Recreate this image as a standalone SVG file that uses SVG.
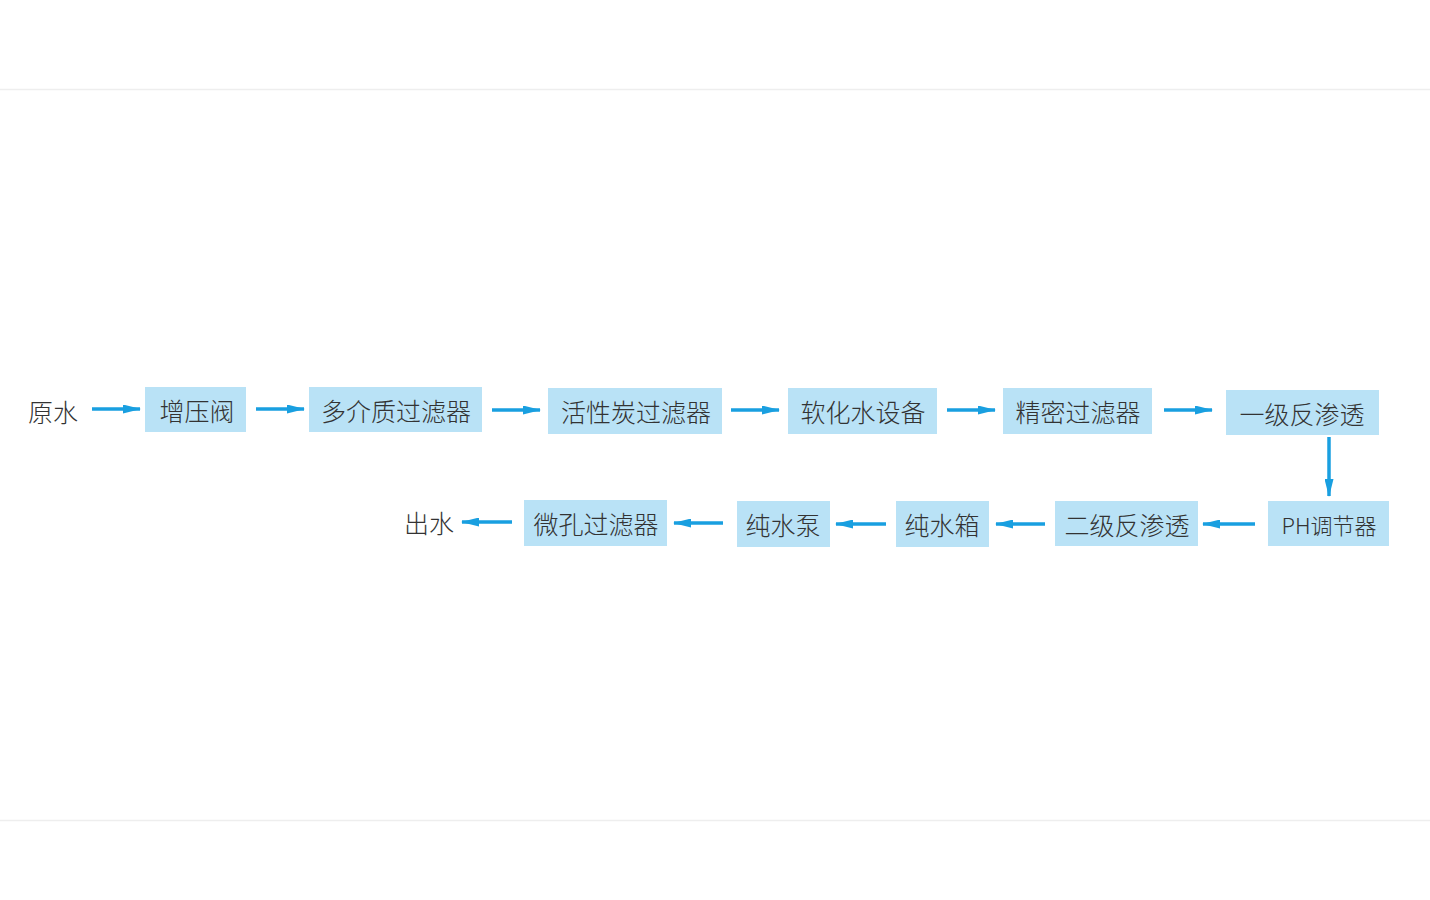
<svg xmlns="http://www.w3.org/2000/svg" width="1430" height="900" viewBox="0 0 1430 900">
<style>
.box{fill:#b9e2f6}
.t{font-family:"Noto Sans CJK SC","Noto Sans",sans-serif;font-size:25px;fill:#333;text-anchor:middle;dominant-baseline:central;font-weight:300}
.a{stroke:#199fe0;stroke-width:3.5;fill:none;marker-end:url(#ah)}
</style>
<defs>
<marker id="ah" viewBox="0 0 18 9" refX="17" refY="4.5" markerWidth="18" markerHeight="9" markerUnits="userSpaceOnUse" orient="auto">
<path d="M0,0 L18,4.5 L0,9 Z" fill="#199fe0"/>
</marker>
</defs>
<rect x="0" y="0" width="1430" height="900" fill="#fff"/>
<line x1="0" y1="89.5" x2="1430" y2="89.5" stroke="#eeeeee" stroke-width="1.5"/>
<line x1="0" y1="820.5" x2="1430" y2="820.5" stroke="#eeeeee" stroke-width="1.5"/>

<g id="n0"><text class="t" x="53" y="411">原水</text></g>
<g id="n1"><rect class="box" x="145" y="387" width="101" height="45"/><text class="t" x="197" y="410">增压阀</text></g>
<g id="n2"><rect class="box" x="309" y="387" width="173" height="45"/><text class="t" x="396" y="410">多介质过滤器</text></g>
<g id="n3"><rect class="box" x="548" y="388" width="174" height="46"/><text class="t" x="636" y="411">活性炭过滤器</text></g>
<g id="n4"><rect class="box" x="788" y="388" width="149" height="46"/><text class="t" x="863" y="411">软化水设备</text></g>
<g id="n5"><rect class="box" x="1003" y="388" width="149" height="46"/><text class="t" x="1078" y="411">精密过滤器</text></g>
<g id="n6"><rect class="box" x="1226" y="390" width="153" height="45"/><text class="t" x="1302" y="413">一级反渗透</text></g>
<g id="n7"><rect class="box" x="1268" y="501" width="121" height="45"/><text class="t" x="1329" y="524" style="font-size:22px">PH调节器</text></g>
<g id="n8"><rect class="box" x="1055" y="501" width="143" height="45"/><text class="t" x="1127" y="524">二级反渗透</text></g>
<g id="n9"><rect class="box" x="896" y="501" width="93" height="46"/><text class="t" x="942" y="524">纯水箱</text></g>
<g id="n10"><rect class="box" x="737" y="501" width="93" height="46"/><text class="t" x="783" y="524">纯水泵</text></g>
<g id="n11"><rect class="box" x="524" y="500" width="143" height="46"/><text class="t" x="596" y="523">微孔过滤器</text></g>
<g id="n12"><text class="t" x="429" y="522">出水</text></g>

<g id="connectors">
<line class="a" x1="92" y1="409" x2="140" y2="409"/>
<line class="a" x1="256" y1="409" x2="304" y2="409"/>
<line class="a" x1="492" y1="410" x2="540" y2="410"/>
<line class="a" x1="731" y1="410" x2="779" y2="410"/>
<line class="a" x1="947" y1="410" x2="995" y2="410"/>
<line class="a" x1="1164" y1="410" x2="1212" y2="410"/>
<line class="a" x1="1329" y1="437" x2="1329" y2="496"/>
<line class="a" x1="1255" y1="524" x2="1203" y2="524"/>
<line class="a" x1="1045" y1="524" x2="996" y2="524"/>
<line class="a" x1="886" y1="524" x2="836" y2="524"/>
<line class="a" x1="723" y1="523" x2="674" y2="523"/>
<line class="a" x1="512" y1="522" x2="462" y2="522"/>
</g>
</svg>
